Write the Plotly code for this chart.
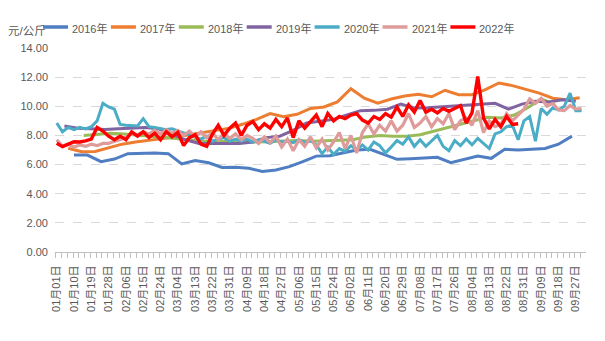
import pandas as pd
import plotly.graph_objects as go

# Month-day axis shared by all years; a leap-year calendar keeps a slot for 02-29.
CAL_YEAR = 2020
AXIS_START = pd.Timestamp(f"{CAL_YEAR}-01-01")

# ---- weekly series (start date, step in days, values in 元/公斤) ----
start_2016, step_2016 = "01-10", 7
price_2016 = [6.65, 6.65, 6.20, 6.38, 6.75, 6.77, 6.80, 6.75, 6.05, 6.27, 6.12, 5.80, 5.82,
              5.75, 5.52, 5.63, 5.86, 6.20, 6.58, 6.60, 6.80, 7.00, 7.05, 6.70, 6.36, 6.40,
              6.45, 6.50, 6.13, 6.35, 6.58, 6.43, 7.05, 7.00, 7.05, 7.10, 7.40, 7.95]

start_2017, step_2017 = "01-07", 7
price_2017 = [7.12, 6.88, 6.90, 7.15, 7.40, 7.55, 7.65, 7.75, 7.90, 8.05, 8.20, 8.35, 8.50,
              8.78, 9.10, 9.50, 9.28, 9.45, 9.85, 9.95, 10.30, 11.20, 10.55, 10.22, 10.50,
              10.70, 10.82, 10.65, 11.10, 10.80, 10.80, 11.15, 11.60, 11.42, 11.15, 10.90,
              10.55, 10.45, 10.58]

start_2018, step_2018 = "01-15", 7
price_2018 = [8.00, 8.10, 8.15, 8.10, 8.05, 7.95, 7.85, 7.75, 7.65, 7.60, 7.60, 7.55, 7.55,
              7.55, 7.60, 7.60, 7.65, 7.60, 7.62, 7.65, 7.70, 7.90, 8.00, 7.95, 7.95, 8.05,
              8.30, 8.55, 8.75, 9.05, 9.25, 9.20, 9.40, 9.90, 10.50, 10.15]

start_2019, step_2019 = "01-05", 7
price_2019 = [8.65, 8.50, 8.45, 8.40, 8.45, 8.50, 8.55, 8.45, 8.10, 7.70, 7.45, 7.45, 7.45,
              7.45, 7.55, 7.85, 7.95, 8.35, 8.85, 9.00, 9.10, 9.40, 9.70, 9.72, 9.80, 10.15,
              9.88, 9.90, 9.95, 10.00, 10.08, 10.12, 10.20, 9.80, 10.15, 10.35, 10.30, 10.45,
              10.35]

# ---- sampled every three days ----
start_2020, step_2020 = "01-01", 3
price_2020 = [8.85, 8.25, 8.55, 8.40, 8.55, 8.45, 8.60, 9.00, 10.20, 9.95, 9.80, 8.75, 8.70,
              8.70, 8.65, 9.15, 8.60, 8.55, 8.50, 8.40, 8.45, 8.30, 8.15, 8.00, 7.90, 7.75,
              7.95, 7.60, 7.75, 7.85, 7.60, 7.75, 7.60, 7.75, 7.55, 7.70, 7.60, 7.45, 7.70,
              7.55, 7.60, 7.50, 7.70, 7.50, 7.65, 7.35, 6.75, 7.20, 6.70, 7.10, 6.90, 7.30,
              7.00, 7.35, 7.00, 7.55, 7.30, 6.80, 7.20, 7.65, 7.40, 7.90, 7.25, 7.70, 7.25,
              7.60, 8.00, 7.25, 6.95, 7.65, 7.30, 7.75, 7.35, 7.80, 7.45, 7.10, 8.10, 8.25,
              8.60, 8.70, 7.70, 9.00, 9.30, 7.60, 9.85, 9.45, 9.90, 9.75, 10.00, 10.90, 9.70,
              9.70]

start_2021, step_2021 = "01-01", 3
price_2021 = [7.70, 7.25, 7.40, 7.20, 7.35, 7.25, 7.40, 7.30, 7.45, 7.45, 7.60, 7.70, 7.90,
              8.10, 8.05, 8.25, 8.10, 8.35, 8.10, 8.40, 8.15, 8.35, 8.00, 8.30, 7.90, 8.25,
              7.85, 8.20, 7.70, 8.15, 7.80, 8.10, 7.70, 8.00, 7.80, 7.45, 7.90, 7.50, 7.95,
              7.20, 7.75, 6.95, 7.70, 7.25, 7.90, 7.15, 7.75, 7.00, 7.55, 8.20, 7.10, 8.00,
              6.80, 8.20, 8.80, 8.10, 8.70, 8.30, 9.00, 8.30, 8.70, 9.50, 8.55, 8.85, 9.30,
              8.60, 9.15, 8.80, 9.50, 8.40, 9.00, 9.20, 8.70, 9.70, 8.20, 9.00, 8.60, 8.75,
              9.50, 9.00, 9.40, 9.80, 10.50, 10.20, 10.55, 10.00, 10.20, 9.75, 9.70, 10.05,
              9.80, 9.85]

start_2022, step_2022 = "01-01", 3
price_2022 = [7.46, 7.23, 7.40, 7.57, 7.55, 7.62, 7.75, 8.55, 8.30, 7.95, 7.70, 7.95, 7.70,
              8.25, 7.95, 8.25, 7.85, 8.15, 7.70, 8.25, 7.90, 8.20, 7.30, 7.85, 8.05, 7.40,
              7.25, 8.10, 8.70, 8.00, 8.50, 8.85, 8.00, 8.70, 8.95, 8.40, 8.80, 8.50, 9.10,
              8.60, 9.20, 7.85, 9.00, 8.50, 8.95, 9.40, 8.60, 9.50, 9.00, 9.30, 9.15, 9.40,
              9.50, 9.05, 8.85, 9.30, 9.10, 9.50, 9.25, 9.95, 9.30, 10.10, 9.60, 10.40, 9.60,
              9.80, 9.55, 9.85, 9.65, 9.85, 10.05, 8.85, 9.55, 12.05, 9.20, 8.45, 9.10, 8.60,
              9.30, 8.75, 8.80]

series = [
    ("2016年", start_2016, step_2016, price_2016, "#4F7EC2", 3.0),
    ("2017年", start_2017, step_2017, price_2017, "#ED7D31", 3.0),
    ("2018年", start_2018, step_2018, price_2018, "#9BBB59", 3.0),
    ("2019年", start_2019, step_2019, price_2019, "#8064A2", 3.0),
    ("2020年", start_2020, step_2020, price_2020, "#4BACC6", 3.0),
    ("2021年", start_2021, step_2021, price_2021, "#DE9B9A", 3.2),
    ("2022年", start_2022, step_2022, price_2022, "#FF0000", 3.4),
]

# figure geometry (pixels)
FIG_W, FIG_H = 605, 341
M_L, M_R, M_T, M_B = 55, 19, 48, 89
PLOT_W = FIG_W - M_L - M_R
PLOT_H = FIG_H - M_T - M_B


def px_to_paper(px, py):
    """Convert page pixels to paper coordinates (for the header row)."""
    return (px - M_L) / PLOT_W, (FIG_H - M_B - py) / PLOT_H


def day_positions(start_md, step, count):
    """Day offsets on the shared month-day axis."""
    first = pd.Timestamp(f"{CAL_YEAR}-{start_md}")
    dates = pd.date_range(first, periods=count, freq=f"{step}D")
    return [(d - AXIS_START).days for d in dates], [d.strftime("%m月%d日") for d in dates]


fig = go.Figure()
for name, start, step, values, color, width in series:
    xs, labels = day_positions(start, step, len(values))
    fig.add_trace(go.Scatter(
        x=xs, y=values, name=name, mode="lines",
        line=dict(color=color, width=width),
        customdata=labels, showlegend=False,
        hovertemplate="%{customdata}: %{y:.2f}<extra>" + name + "</extra>",
    ))

# category labels every 9 days, tick marks every 3 days
label_days = list(range(0, 271, 9))
label_text = [(AXIS_START + pd.Timedelta(days=d)).strftime("%m月%d日") for d in label_days]

grey_text = "#595959"
base_font = "Liberation Sans, Arial, Noto Sans CJK SC, sans-serif"

# compact key row across the top: short line sample followed by the year
shapes, annotations = [], []
KEY_X0, KEY_STEP, KEY_LINE = 43, 67.9, 25
for i, (name, _, _, _, color, _) in enumerate(series):
    lx = KEY_X0 + i * KEY_STEP
    x0, y0 = px_to_paper(lx, 27)
    x1, _ = px_to_paper(lx + KEY_LINE, 27)
    shapes.append(dict(type="line", xref="paper", yref="paper", x0=x0, x1=x1, y0=y0, y1=y0,
                       line=dict(color=color, width=3.5)))
    tx, ty = px_to_paper(lx + KEY_LINE + 2, 28.5)
    annotations.append(dict(text=name, xref="paper", yref="paper", x=tx, y=ty,
                            xanchor="left", yanchor="middle", showarrow=False,
                            font=dict(size=11, color=grey_text)))

ux, uy = px_to_paper(6, 31)
annotations.append(dict(text="元/公斤", xref="paper", yref="paper", x=ux, y=uy,
                        xanchor="left", yanchor="middle", showarrow=False,
                        font=dict(size=11.5, color=grey_text)))

fig.update_layout(
    width=FIG_W, height=FIG_H,
    margin=dict(l=M_L, r=M_R, t=M_T, b=M_B),
    paper_bgcolor="white", plot_bgcolor="white",
    font=dict(family=base_font, size=11, color=grey_text),
    showlegend=False,
    xaxis=dict(
        range=[-0.9, 275.3], tickmode="array", tickvals=label_days, ticktext=label_text,
        tickangle=-90, ticks="", showgrid=False, zeroline=False,
        showline=True, linecolor="#BFBFBF", linewidth=1,
        tickfont=dict(size=11, color=grey_text), ticklabelstandoff=8,
        minor=dict(tick0=-0.5, dtick=3, ticks="outside", ticklen=5,
                   tickcolor="#BFBFBF", tickwidth=1, showgrid=False),
        automargin=False,
    ),
    yaxis=dict(
        range=[0, 14], dtick=2, tick0=0, tickformat=".2f",
        showgrid=True, gridcolor="#D9D9D9", griddash="dash", gridwidth=1,
        zeroline=False, showline=False, ticks="",
        tickfont=dict(size=11, color=grey_text), ticklabelstandoff=6,
        automargin=False,
    ),
    shapes=shapes,
    annotations=annotations,
)

fig.write_html("out.html")
